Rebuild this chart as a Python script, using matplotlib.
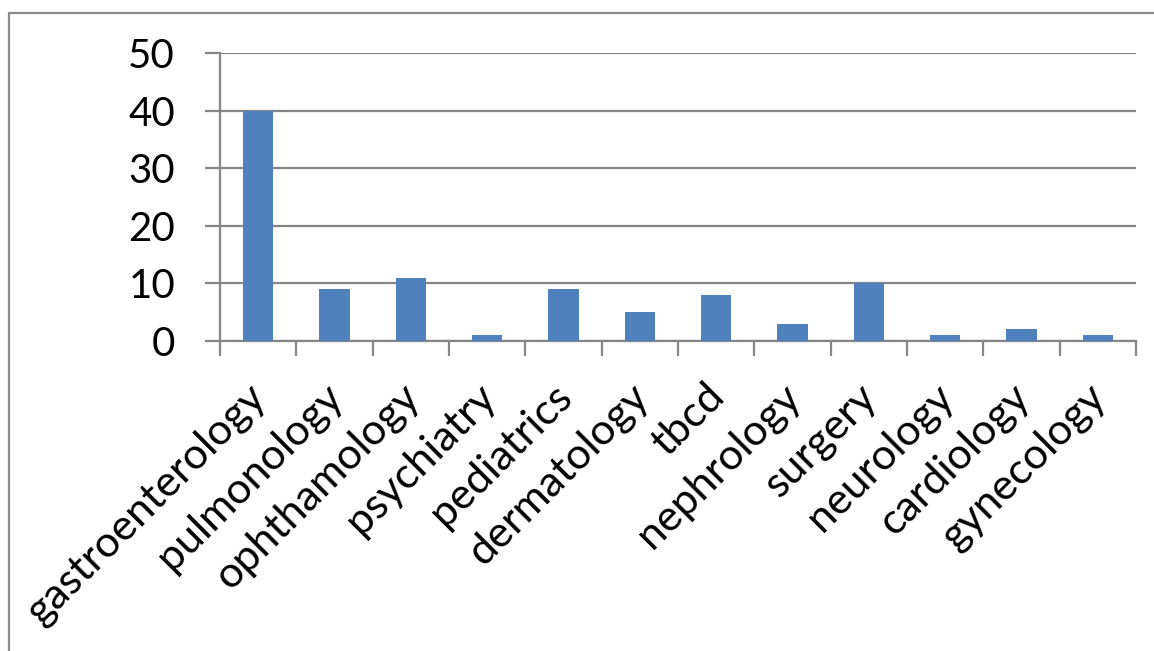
import matplotlib
matplotlib.use("Agg")
import matplotlib.pyplot as plt
from matplotlib.patches import Rectangle
import numpy as np

categories = ["gastroenterology", "pulmonology", "ophthamology", "psychiatry",
              "pediatrics", "dermatology", "tbcd", "nephrology", "surgery",
              "neurology", "cardiology", "gynecology"]
counts = [40, 9, 11, 1, 9, 5, 8, 3, 10, 1, 2, 1]
y_ticks = [0, 10, 20, 30, 40, 50]

W, H, DPI = 1154, 651, 100
plt.rcParams["font.family"] = ["Lato", "DejaVu Sans"]

fig = plt.figure(figsize=(W / DPI, H / DPI), dpi=DPI)
fig.patch.set_facecolor("white")

# chart-area frame (right and bottom edges run past the canvas)
fig.patches.append(Rectangle((8.5 / W, -0.2), 1.5, (H - 12.5) / H + 0.2,
                             transform=fig.transFigure, fill=False,
                             edgecolor="#8c8c8c", linewidth=1.6))

left, right, top, bottom = 220, 1136, 53, 341
ax = fig.add_axes([left / W, 1 - bottom / H, (right - left) / W, (bottom - top) / H])

grid_col = "#868686"
x = np.arange(len(categories))
ax.bar(x, counts, width=0.4, color="#4F81BD", zorder=3)

ax.set_xlim(-0.5, len(categories) - 0.5)
ax.set_ylim(0, 50)
ax.set_yticks(y_ticks)
ax.yaxis.grid(True, color=grid_col, linewidth=1.6, zorder=0)
ax.tick_params(axis="y", length=15 * 72 / DPI, width=1.6, color=grid_col,
               labelsize=29, pad=30 * 72 / DPI, labelcolor="black")

ax.set_xticks(x)
ax.set_xticklabels([])
ax.set_xticks(np.arange(len(categories) + 1) - 0.5, minor=True)
ax.tick_params(axis="x", which="major", length=0)
ax.tick_params(axis="x", which="minor", length=15 * 72 / DPI, width=1.6,
               color=grid_col)

for s in ["top", "right"]:
    ax.spines[s].set_visible(False)
for s in ["left", "bottom"]:
    ax.spines[s].set_color(grid_col)
    ax.spines[s].set_linewidth(1.6)

for xi, name in zip(x, categories):
    ax.annotate(name, xy=(xi, 0), xycoords="data",
                xytext=(-8, -26), textcoords="offset points",
                rotation=45, rotation_mode="anchor", ha="right", va="top",
                fontsize=31, color="black")

fig.savefig("out.png", dpi=DPI, facecolor="white")
